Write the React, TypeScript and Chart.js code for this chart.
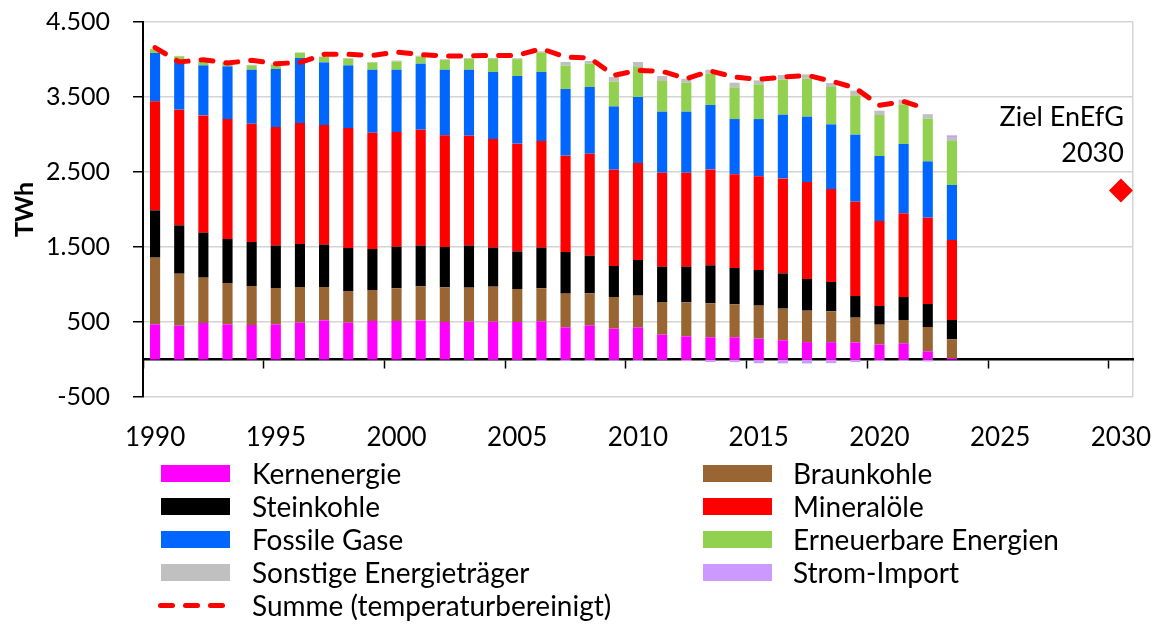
import React, { useEffect, useRef } from 'react';
import { Chart, registerables } from 'chart.js';

Chart.register(...registerables);

if (typeof document !== 'undefined') {
  document.body.style.margin = '0';
  document.body.style.overflow = 'hidden';
}

// ---------- data (TWh) ----------
const years = [
  1990, 1991, 1992, 1993, 1994, 1995, 1996, 1997, 1998, 1999,
  2000, 2001, 2002, 2003, 2004, 2005, 2006, 2007, 2008, 2009,
  2010, 2011, 2012, 2013, 2014, 2015, 2016, 2017, 2018, 2019,
  2020, 2021, 2022, 2023, 2024, 2025, 2026, 2027, 2028, 2029, 2030,
];

const kernenergie = [469, 451, 487, 469, 460, 469, 491, 522, 491, 513, 513, 522, 500, 504, 504, 500, 509, 429, 456, 411, 429, 331, 309, 296, 296, 278, 256, 232, 231, 228, 198, 216, 109, 20];
const braunkohle = [889, 693, 604, 551, 520, 484, 476, 445, 422, 414, 436, 453, 462, 454, 467, 440, 440, 449, 426, 422, 422, 436, 453, 453, 440, 440, 422, 419, 411, 330, 266, 311, 324, 249];
const steinkohle = [631, 645, 600, 587, 587, 565, 573, 564, 574, 546, 555, 543, 538, 560, 520, 502, 542, 555, 502, 414, 476, 471, 476, 507, 484, 475, 471, 422, 391, 289, 249, 306, 307, 258];
const mineraloele = [1453, 1542, 1564, 1600, 1577, 1582, 1613, 1596, 1600, 1551, 1529, 1546, 1489, 1466, 1449, 1436, 1422, 1285, 1360, 1284, 1293, 1253, 1253, 1279, 1249, 1249, 1266, 1293, 1240, 1257, 1134, 1116, 1151, 1066];
const fossileGase = [645, 656, 667, 702, 720, 773, 867, 835, 835, 840, 831, 880, 875, 880, 893, 902, 920, 889, 889, 844, 880, 813, 813, 858, 737, 764, 849, 872, 862, 894, 866, 924, 751, 734];
const erneuerbare = [50, 55, 50, 52, 58, 60, 70, 72, 90, 95, 110, 95, 130, 145, 175, 225, 260, 311, 311, 329, 400, 409, 387, 418, 423, 463, 467, 506, 498, 524, 547, 529, 571, 586];
const sonstige = [5, 5, 5, 5, 5, 5, 5, 6, 6, 8, 10, 10, 10, 10, 12, 12, 15, 49, 36, 63, 67, 67, 53, 53, 62, 53, 62, 58, 54, 62, 58, 62, 58, 54];
const stromImport = [1, 1, 3, 3, 3, 5, -2, -1, 1, 1, 3, 1, -1, -8, -7, -9, -20, -19, -20, -15, -18, -8, -22, -33, -35, -50, -52, -53, -49, -35, -20, -20, -26, 22];
const summeTemperaturbereinigt = [4158, 3967, 3998, 3953, 3989, 3944, 3960, 4069, 4069, 4055, 4100, 4064, 4047, 4047, 4055, 4055, 4144, 4033, 4020, 3789, 3855, 3842, 3744, 3846, 3766, 3735, 3766, 3789, 3713, 3620, 3389, 3440, 3340];

const targetYear = 2030;
const targetValue = 2252;
const targetLabelLines = ['Ziel EnEfG', '2030'];
const targetLabelValues = [3230, 2750];

const yTicks = { min: -500, max: 4500, step: 1000 };
const yTitle = 'TWh';

const barSeries = [
  { label: 'Kernenergie', data: kernenergie, color: '#FF00FF' },
  { label: 'Braunkohle', data: braunkohle, color: '#996633' },
  { label: 'Steinkohle', data: steinkohle, color: '#000000' },
  { label: 'Mineralöle', data: mineraloele, color: '#FF0000' },
  { label: 'Fossile Gase', data: fossileGase, color: '#0066FF' },
  { label: 'Erneuerbare Energien', data: erneuerbare, color: '#92D050' },
  { label: 'Sonstige Energieträger', data: sonstige, color: '#C0C0C0' },
  { label: 'Strom-Import', data: stromImport, color: '#CC99FF' },
];
const summeLabel = 'Summe (temperaturbereinigt)';

const legendLeft = ['Kernenergie', 'Steinkohle', 'Fossile Gase', 'Sonstige Energieträger', summeLabel];
const legendRight = ['Braunkohle', 'Mineralöle', 'Erneuerbare Energien', 'Strom-Import'];

const FONT = 'Lato, "Open Sans", sans-serif';
const GRID = '#d4d4d4';

function fmtDe(v: number): string {
  const s = String(Math.abs(v)).replace(/\B(?=(\d{3})+(?!\d))/g, '.');
  return v < 0 ? '-' + s : s;
}

const targetLabelPlugin = {
  id: 'targetLabel',
  afterDatasetsDraw(chart: any) {
    const { ctx, scales } = chart;
    const x = scales.x;
    const y = scales.y;
    const px = x.getPixelForValue(years.indexOf(targetYear)) + 3;
    ctx.save();
    ctx.font = `27px ${FONT}`;
    ctx.fillStyle = '#000';
    ctx.textAlign = 'right';
    ctx.textBaseline = 'middle';
    targetLabelLines.forEach((t, i) => {
      ctx.fillText(t, px, y.getPixelForValue(targetLabelValues[i]));
    });
    ctx.restore();
  },
};

function Swatch({ label }: { label: string }) {
  if (label === summeLabel) {
    return (
      <div style={{ width: 69, height: 17, position: 'relative' }}>
        {[0, 1, 2].map((i) => (
          <div
            key={i}
            style={{
              position: 'absolute',
              left: -3 + i * 25,
              top: 6,
              width: 17,
              height: 5,
              borderRadius: 3,
              background: '#FF0000',
            }}
          />
        ))}
      </div>
    );
  }
  const s = barSeries.find((b) => b.label === label);
  return <div style={{ width: 69, height: 17, background: s ? s.color : '#000' }} />;
}

function LegendColumn({ items, left, textLeft }: { items: string[]; left: number; textLeft: number }) {
  return (
    <>
      {items.map((it, i) => (
        <div
          key={it}
          style={{
            position: 'absolute',
            left,
            top: 473 - 16 + i * 33,
            height: 33,
            display: 'flex',
            alignItems: 'center',
          }}
        >
          <Swatch label={it} />
          <div
            style={{
              marginLeft: textLeft - left - 69,
              fontFamily: FONT,
              fontSize: 28,
              color: '#000',
              whiteSpace: 'nowrap',
              lineHeight: '33px',
            }}
          >
            {it}
          </div>
        </div>
      ))}
    </>
  );
}

export default function App() {
  const canvasRef = useRef<HTMLCanvasElement | null>(null);

  useEffect(() => {
    const canvas = canvasRef.current;
    if (!canvas) return;

    const datasets: any[] = [
      {
        type: 'line',
        label: summeLabel,
        data: summeTemperaturbereinigt,
        borderColor: '#FF0000',
        backgroundColor: '#FF0000',
        borderWidth: 5,
        borderDash: [12, 13],
        borderCapStyle: 'round',
        pointRadius: 0,
        fill: false,
        tension: 0,
        stack: 'summe',
        order: -2,
      },
      {
        type: 'line',
        label: 'Ziel EnEfG 2030',
        data: years.map((yr) => (yr === targetYear ? targetValue : null)),
        showLine: false,
        pointStyle: 'rectRot',
        pointRadius: 12,
        pointBackgroundColor: '#FF0000',
        pointBorderWidth: 0,
        borderColor: '#FF0000',
        stack: 'ziel',
        order: -1,
      },
      ...barSeries.map((s) => ({
        type: 'bar',
        label: s.label,
        data: s.data,
        backgroundColor: s.color,
        borderWidth: 0,
        stack: 'pev',
        barPercentage: 0.42,
        categoryPercentage: 1,
      })),
    ];

    const chart = new Chart(canvas, {
      type: 'bar',
      data: { labels: years.map(String), datasets },
      plugins: [targetLabelPlugin],
      options: {
        responsive: false,
        animation: false,
        devicePixelRatio: 1,
        layout: { padding: { left: 0, right: 18, top: 14, bottom: 0 } },
        plugins: {
          legend: { display: false },
          tooltip: { enabled: false },
        },
        scales: {
          x: {
            type: 'category',
            stacked: true,
            offset: true,
            position: 'bottom',
            border: { display: false },
            grid: {
              display: true,
              offset: true,
              drawTicks: false,
              drawOnChartArea: true,
              lineWidth: 1.5,
              color: (ctx: any) => (ctx.type === 'tick' ? 'rgba(0,0,0,0)' : GRID),
            },
            ticks: {
              autoSkip: false,
              maxRotation: 0,
              minRotation: 0,
              padding: 25,
              color: '#000',
              font: { family: FONT, size: 26 },
              callback: (_v: any, i: number) => (years[i] % 5 === 0 ? String(years[i]) : ''),
            },
            afterFit: (scale: any) => {
              scale.height = 69;
              scale.paddingLeft = 0;
              scale.paddingRight = 0;
            },
          },
          x2: {
            type: 'category',
            offset: true,
            position: { y: 0 },
            border: { display: true, color: '#000', width: 2.5 },
            grid: {
              display: true,
              offset: true,
              drawOnChartArea: false,
              drawTicks: true,
              tickLength: 8,
              tickWidth: 1.5,
              tickColor: (ctx: any) =>
                ctx.type === 'tick' && ctx.index % 5 === 0 ? '#000' : 'rgba(0,0,0,0)',
            },
            ticks: { display: false },
            afterFit: (scale: any) => {
              scale.paddingLeft = 0;
              scale.paddingRight = 0;
              scale.paddingTop = 0;
              scale.paddingBottom = 0;
            },
          },
          y: {
            type: 'linear',
            stacked: true,
            min: yTicks.min,
            max: yTicks.max,
            border: { display: true, color: '#000', width: 2 },
            grid: {
              color: GRID,
              lineWidth: 1.5,
              tickColor: '#000',
              tickLength: 10,
              tickWidth: 1.5,
            },
            ticks: {
              stepSize: yTicks.step,
              padding: 23,
              color: '#000',
              font: { family: FONT, size: 25 },
              callback: (v: any) => fmtDe(Number(v)),
            },
            title: {
              display: true,
              text: yTitle,
              color: '#000',
              font: { family: FONT, size: 25, weight: 'bold' },
              padding: { top: 2, bottom: 0 },
            },
            afterFit: (scale: any) => {
              scale.width = 135;
              scale.paddingTop = 0;
              scale.paddingBottom = 0;
            },
          },
        },
      } as any,
    });

    return () => {
      chart.destroy();
    };
  }, []);

  return (
    <div style={{ position: 'relative', width: 1159, height: 624, background: '#fff', overflow: 'hidden' }}>
      <canvas
        ref={canvasRef}
        width={1143}
        height={458}
        style={{ position: 'absolute', left: 8, top: 8, width: 1143, height: 458 }}
      />
      <LegendColumn items={legendLeft} left={161} textLeft={252} />
      <LegendColumn items={legendRight} left={703} textLeft={793} />
    </div>
  );
}
